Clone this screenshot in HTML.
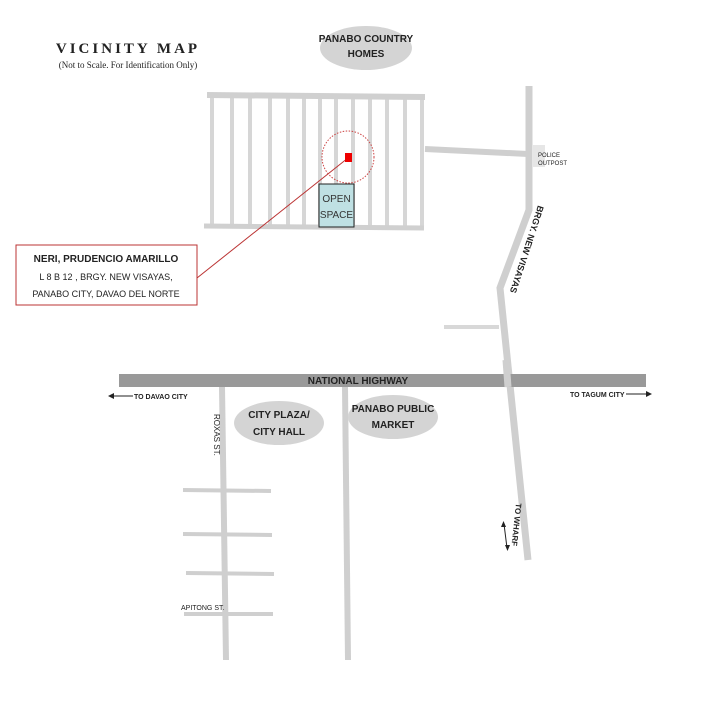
<!DOCTYPE html>
<html><head><style>
html,body{margin:0;padding:0;background:#fff;}
svg{display:block;}
text{font-family:"Liberation Sans",sans-serif;}
</style></head><body>
<svg width="720" height="720" viewBox="0 0 720 720" xmlns="http://www.w3.org/2000/svg">
<rect width="720" height="720" fill="#fff"/>
<text x="128" y="53" text-anchor="middle" style="font-family:'Liberation Serif',serif" font-weight="bold" font-size="15" letter-spacing="3" fill="#222">VICINITY MAP</text>
<text x="128" y="68" text-anchor="middle" style="font-family:'Liberation Serif',serif" font-size="9" fill="#222">(Not to Scale. For Identification Only)</text>

<ellipse cx="366" cy="48" rx="46" ry="22" fill="#d4d4d4"/>
<text x="366" y="42" text-anchor="middle" font-size="10" font-weight="bold" fill="#222">PANABO COUNTRY</text>
<text x="366" y="57" text-anchor="middle" font-size="10" font-weight="bold" fill="#222">HOMES</text>

<g stroke="#d6d6d6" stroke-width="4">
<line x1="212" y1="96" x2="212" y2="227"/><line x1="232" y1="96" x2="232" y2="227"/>
<line x1="250" y1="96" x2="250" y2="227"/><line x1="270" y1="96" x2="270" y2="227"/>
<line x1="288" y1="96" x2="288" y2="227"/><line x1="304" y1="96" x2="304" y2="227"/>
<line x1="320" y1="96" x2="320" y2="227"/><line x1="336" y1="96" x2="336" y2="227"/>
<line x1="353" y1="96" x2="353" y2="227"/><line x1="370" y1="96" x2="370" y2="227"/>
<line x1="387" y1="96" x2="387" y2="227"/><line x1="405" y1="96" x2="405" y2="227"/>
<line x1="422" y1="96" x2="422" y2="227"/>
</g>
<line x1="207" y1="95" x2="425" y2="97" stroke="#d0d0d0" stroke-width="6"/>
<line x1="204" y1="226" x2="424" y2="228" stroke="#d0d0d0" stroke-width="5"/>
<line x1="425" y1="149" x2="528" y2="154" stroke="#cfcfcf" stroke-width="6"/>
<polyline points="529,86 529,210 500,288 528,560" fill="none" stroke="#cfcfcf" stroke-width="7"/>
<rect x="533" y="145" width="12" height="22" fill="#e6e6e6"/>
<text x="538" y="157" font-size="6" fill="#222">POLICE</text>
<text x="538" y="165" font-size="6" fill="#222">OUTPOST</text>
<text transform="translate(538,205) rotate(108)" font-size="9" font-weight="bold" fill="#222">BRGY. NEW VISAYAS</text>
<line x1="444" y1="327" x2="499" y2="327" stroke="#d8d8d8" stroke-width="4"/>

<rect x="319" y="184" width="35" height="43" fill="#bfe0e3" stroke="#222" stroke-width="1"/>
<text x="336.5" y="202" text-anchor="middle" font-size="10" fill="#333">OPEN</text>
<text x="336.5" y="218" text-anchor="middle" font-size="10" fill="#333">SPACE</text>
<circle cx="348" cy="157" r="26" fill="none" stroke="#c44" stroke-width="1" stroke-dasharray="1.5,1.5"/>
<line x1="348" y1="158" x2="197" y2="278" stroke="#b33" stroke-width="1"/>
<rect x="345" y="153" width="7" height="9" fill="#e00"/>

<rect x="16" y="245" width="181" height="60" fill="#fff" stroke="#b33" stroke-width="1"/>
<text x="106" y="262" text-anchor="middle" font-size="10" font-weight="bold" fill="#222">NERI, PRUDENCIO AMARILLO</text>
<text x="106" y="280" text-anchor="middle" font-size="9" fill="#222">L 8 B 12 ,  BRGY. NEW VISAYAS,</text>
<text x="106" y="297" text-anchor="middle" font-size="9" fill="#222">PANABO CITY, DAVAO DEL NORTE</text>

<rect x="119" y="374" width="527" height="13" fill="#999"/>
<line x1="506" y1="360" x2="508" y2="387" stroke="#cfcfcf" stroke-width="7"/>
<text x="358" y="384" text-anchor="middle" font-size="10" font-weight="bold" fill="#222">NATIONAL HIGHWAY</text>
<line x1="110" y1="396" x2="133" y2="396" stroke="#222" stroke-width="1"/>
<polygon points="108,396 114,393 114,399" fill="#222"/>
<text x="134" y="399" font-size="7" font-weight="bold" fill="#222">TO DAVAO CITY</text>
<text x="570" y="397" font-size="7" font-weight="bold" fill="#222">TO TAGUM CITY</text>
<line x1="626" y1="394" x2="649" y2="394" stroke="#222" stroke-width="1"/>
<polygon points="652,394 646,391 646,397" fill="#222"/>

<line x1="222" y1="387" x2="226" y2="660" stroke="#cfcfcf" stroke-width="6"/>
<line x1="345" y1="387" x2="348" y2="660" stroke="#cfcfcf" stroke-width="6"/>
<g stroke="#cfcfcf" stroke-width="4">
<line x1="183" y1="490" x2="271" y2="491"/><line x1="183" y1="534" x2="272" y2="535"/>
<line x1="186" y1="573" x2="274" y2="574"/><line x1="184" y1="614" x2="273" y2="614"/>
</g>
<text transform="translate(214,414) rotate(90)" font-size="8" fill="#222">ROXAS ST.</text>
<text x="181" y="610" font-size="7" fill="#222">APITONG ST.</text>

<ellipse cx="279" cy="423" rx="45" ry="22" fill="#d4d4d4"/>
<text x="279" y="418" text-anchor="middle" font-size="10" font-weight="bold" fill="#222">CITY PLAZA/</text>
<text x="279" y="435" text-anchor="middle" font-size="10" font-weight="bold" fill="#222">CITY HALL</text>
<ellipse cx="393" cy="417" rx="45" ry="22" fill="#d4d4d4"/>
<text x="393" y="412" text-anchor="middle" font-size="10" font-weight="bold" fill="#222">PANABO PUBLIC</text>
<text x="393" y="428" text-anchor="middle" font-size="10" font-weight="bold" fill="#222">MARKET</text>

<text transform="translate(516,503) rotate(96)" font-size="8" font-weight="bold" fill="#222">TO WHARF</text>
<line x1="504" y1="524" x2="507" y2="548" stroke="#222" stroke-width="1"/>
<polygon points="503.5,521 501,527 506,527" fill="#222"/>
<polygon points="507.5,551 505,545 510,545" fill="#222"/>
</svg>
</body></html>
